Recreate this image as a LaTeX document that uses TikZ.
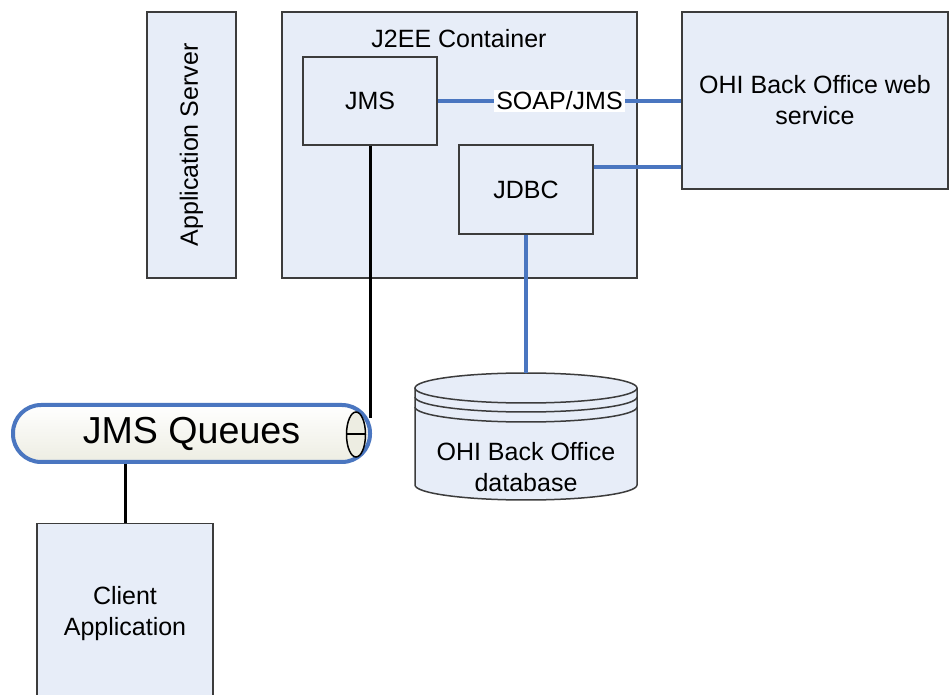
\documentclass[tikz,border=0pt]{standalone}
\usepackage{fontspec}
\setmainfont{Liberation Sans}
\usetikzlibrary{positioning,shapes.geometric}
\definecolor{boxfill}{HTML}{E7EDF8}
\definecolor{boxline}{HTML}{3C3C3C}
\definecolor{linkblue}{HTML}{4A76C0}
\definecolor{pipefill}{HTML}{EDEDE2}
\begin{document}
\begin{tikzpicture}[x=0.5pt, y=-0.5pt]
\tikzstyle{every node} = [font=\fontsize{12.5}{15.5}\selectfont, align=center, text=black]
\tikzstyle{box} = [draw=boxline, fill=boxfill, line width=0.75pt, inner sep=0pt]
\tikzstyle{bluelink} = [linkblue, line width=2pt]
\tikzstyle{blacklink} = [black, line width=1.5pt]
\clip (0,0) rectangle (949,695);
% servers and containers
\node[box, minimum width=133pt, minimum height=44.5pt, rotate=90] (appsrv) at (191.5,145) {Application Server};
\node[box, minimum width=177.5pt, minimum height=133pt] (j2ee) at (459.5,145) {};
\node (j2eelbl) at (459,39) {J2EE Container};
\node[box, minimum width=67pt, minimum height=44pt] (jms) at (370,101) {JMS};
\node[box, minimum width=67pt, minimum height=44.5pt] (jdbc) at (526,189.5) {JDBC};
\node[box, minimum width=133pt, minimum height=88.5pt] (ws) at (815,100.5) {OHI Back Office web\\service};
\node[box, minimum width=88pt, minimum height=90.5pt] (client) at (125,614) {Client\\Application};
% queue pipe
\node[draw=linkblue, line width=2pt, rounded corners=14pt, top color=white, bottom color=pipefill,
  minimum width=178.5pt, minimum height=28.5pt, font=\fontsize{18.8}{22}\selectfont] (queue) at (191.5,433.5) {JMS Queues};
\node[ellipse, draw=black, line width=0.75pt, fill=pipefill, minimum width=9.5pt, minimum height=22.5pt, inner sep=0pt] (qend) at (356,434.5) {};
\draw[line width=1pt] (qend.west) -- (qend.east);
% database
\coordinate (dbtop) at (526,373);
\fill[boxfill] (415,388) -- (415,485) arc[start angle=180, end angle=360, x radius=55.5pt, y radius=7.5pt] -- (637,388) -- cycle;
\draw[boxline, line width=0.75pt] (415,388) -- (415,485) arc[start angle=180, end angle=360, x radius=55.5pt, y radius=7.5pt] -- (637,388);
\draw[boxline, line width=0.75pt, fill=boxfill] (526,388) ellipse[x radius=55.5pt, y radius=7.5pt];
\draw[boxline, line width=0.75pt] (415,397) arc[start angle=180, end angle=360, x radius=55.5pt, y radius=7.5pt];
\draw[boxline, line width=0.75pt] (415,407) arc[start angle=180, end angle=360, x radius=55.5pt, y radius=7.5pt];
\node (db) at (526,467) {OHI Back Office\\database};
% connectors
\draw[bluelink] (jms.east) -- node[fill=white, inner sep=1pt] (soap) {SOAP/JMS} (jms.east -| ws.west);
\draw[bluelink] ([yshift=11pt]jdbc.east) -- ([yshift=11pt]jdbc.east -| ws.west);
\draw[bluelink] (jdbc.south) -- (dbtop);
\coordinate (qin) at (370,418);
\draw[blacklink] (jms.south) -- (qin);
\draw[blacklink] (client.north |- queue.south) -- (client.north);
\end{tikzpicture}
\end{document}
